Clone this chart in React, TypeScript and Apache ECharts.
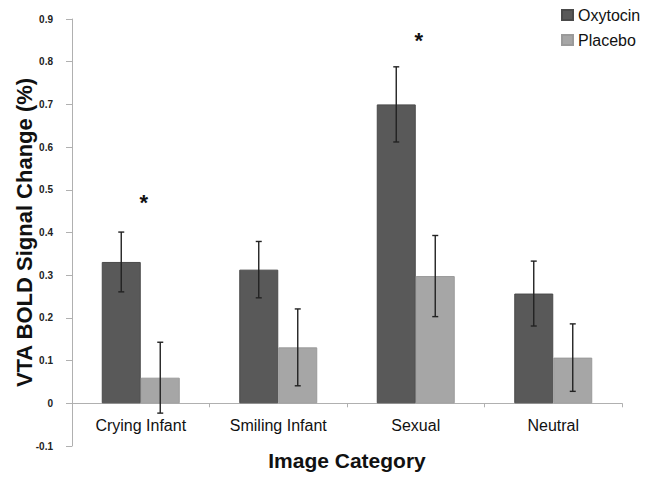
import React, { useEffect, useRef } from "react";
import * as echarts from "echarts";

const categories = ["Crying Infant", "Smiling Infant", "Sexual", "Neutral"];
const oxytocin = [0.331, 0.313, 0.7, 0.257];
const oxytocinErr = [0.07, 0.066, 0.088, 0.076];
const placebo = [0.06, 0.131, 0.298, 0.107];
const placeboErr = [0.083, 0.09, 0.095, 0.079];
const stars = [
  { cat: 0, y: 0.47 },
  { cat: 2, y: 0.85 },
];

const BAR_W = 39;
const FONT = "Arial, 'Liberation Sans', sans-serif";

export default function App() {
  const ref = useRef<HTMLDivElement>(null);
  useEffect(() => {
    document.body.style.margin = "0";
    const chart = echarts.init(ref.current!, null, { renderer: "svg" });
    const errSeries = (vals: number[], errs: number[], offset: number) => ({
      type: "custom",
      silent: true,
      z: 10,
      data: vals.map((v, i) => [i, v - errs[i], v + errs[i]]),
      renderItem: (params: any, api: any) => {
        const i = api.value(0);
        const lo = api.coord([i, api.value(1)]);
        const hi = api.coord([i, api.value(2)]);
        const x = lo[0] + offset;
        const cap = 3;
        const style = { stroke: "#222", lineWidth: 1.4 };
        return {
          type: "group",
          children: [
            { type: "line", shape: { x1: x, y1: lo[1], x2: x, y2: hi[1] }, style },
            { type: "line", shape: { x1: x - cap, y1: lo[1], x2: x + cap, y2: lo[1] }, style },
            { type: "line", shape: { x1: x - cap, y1: hi[1], x2: x + cap, y2: hi[1] }, style },
          ],
        };
      },
    });
    chart.setOption({
      animation: false,
      backgroundColor: "#fff",
      grid: { left: 72, right: 34, top: 19, bottom: 33, containLabel: false, outerBoundsMode: "none" },
      legend: {
        orient: "vertical",
        left: 556,
        top: 2,
        itemWidth: 11,
        itemHeight: 10,
        itemGap: 9,
        icon: "rect",
        textStyle: { fontFamily: FONT, fontSize: 16, color: "#111" },
        data: ["Oxytocin", "Placebo"],
      },
      xAxis: {
        type: "category",
        data: categories,
        name: "Image Category",
        nameLocation: "middle",
        nameGap: 4,
        nameMoveOverlap: false,
        nameTextStyle: { fontFamily: FONT, fontSize: 21, fontWeight: "bold", color: "#111" },
        axisLine: { onZero: true, lineStyle: { color: "#b0b0b0", width: 1 } },
        axisTick: { show: true, length: 4, lineStyle: { color: "#b0b0b0" } },
        axisLabel: { fontFamily: FONT, fontSize: 16, color: "#111", margin: -29 },
      },
      yAxis: {
        type: "value",
        min: -0.1,
        max: 0.9,
        interval: 0.1,
        name: "VTA BOLD Signal Change (%)",
        nameLocation: "middle",
        nameGap: 37,
        nameMoveOverlap: false,
        nameTextStyle: { fontFamily: FONT, fontSize: 22, fontWeight: "bold", color: "#111" },
        axisLine: { show: true, lineStyle: { color: "#b0b0b0", width: 1 } },
        axisTick: { show: true, length: 6, lineStyle: { color: "#b0b0b0" } },
        splitLine: { show: false },
        axisLabel: {
          fontFamily: FONT,
          fontSize: 10,
          fontWeight: "bold",
          color: "#222",
          margin: 19,
          formatter: (v: number) => (Math.abs(v) < 1e-9 ? "0" : v.toFixed(1)),
        },
      },
      series: [
        {
          name: "Oxytocin",
          type: "bar",
          data: oxytocin,
          barWidth: BAR_W,
          barGap: "0%",
          itemStyle: { color: "#595959", borderColor: "#4a4a4a", borderWidth: 1 },
        },
        {
          name: "Placebo",
          type: "bar",
          data: placebo,
          barWidth: BAR_W,
          barGap: "0%",
          itemStyle: { color: "#a6a6a6", borderColor: "#9a9a9a", borderWidth: 1 },
        },
        errSeries(oxytocin, oxytocinErr, -BAR_W / 2),
        errSeries(placebo, placeboErr, BAR_W / 2),
        {
          type: "custom",
          silent: true,
          data: stars.map((s) => [s.cat, s.y]),
          renderItem: (params: any, api: any) => {
            const p = api.coord([api.value(0), api.value(1)]);
            return {
              type: "text",
              x: p[0] + 3,
              y: p[1],
              style: {
                text: "*",
                fontFamily: FONT,
                fontSize: 22,
                fontWeight: "bold",
                fill: "#111",
                align: "center",
                verticalAlign: "middle",
              },
            };
          },
        },
      ],
    });
    return () => chart.dispose();
  }, []);
  return <div ref={ref} style={{ width: 656, height: 479 }} />;
}
